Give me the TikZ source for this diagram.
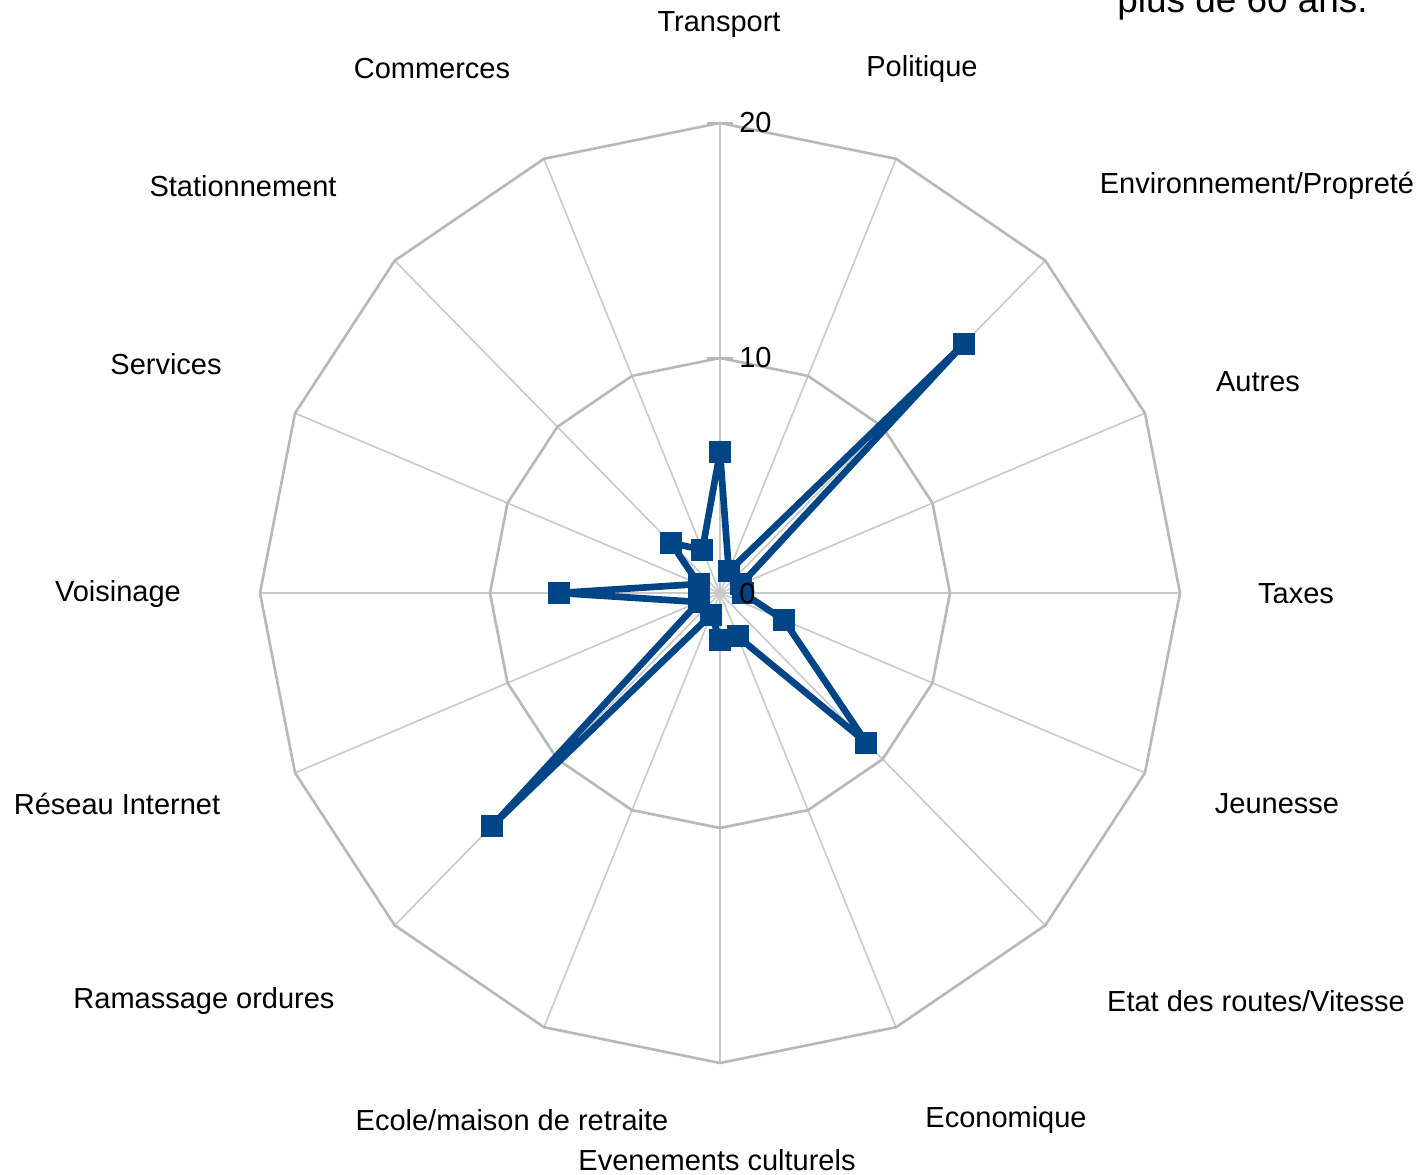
\documentclass[tikz,border=0pt]{standalone}
\usepackage{fontspec}
\setmainfont{Liberation Sans}
\definecolor{ringgray}{HTML}{B8B8B8}
\definecolor{spokegray}{HTML}{C8C8C8}
\definecolor{serieblue}{HTML}{004586}
\begin{document}
\begin{tikzpicture}[x=0.02cm,y=-0.02cm,
  ring/.style={draw=ringgray, line width=1.5pt, line join=round},
  spoke/.style={draw=spokegray, line width=0.9pt},
  dataline/.style={draw=serieblue, line width=3.8pt, line join=round},
  marker/.style={fill=serieblue, draw=none, minimum size=0.44cm, inner sep=0pt, rectangle},
  lab/.style={font=\fontsize{16.5}{19}\selectfont, text=black, inner sep=0pt},
  ticklab/.style={font=\fontsize{16.5}{19}\selectfont, text=black, inner sep=0pt, anchor=west}]
\useasboundingbox (0,0) rectangle (1420,1175);
\coordinate (c) at (720,593);
\foreach \i in {0,...,15} {
  \pgfmathsetmacro\a{\i*22.5}
  \coordinate (r\i) at ({720+460*sin(\a)},{593-470*cos(\a)});
  \coordinate (h\i) at ({720+230*sin(\a)},{593-235*cos(\a)});
}
% spokes
\foreach \i in {0,...,15} \draw[spoke] (c) -- (r\i);
% rings
\draw[ring] (r0) \foreach \i in {1,...,15}{ -- (r\i)} -- cycle;
\draw[ring] (h0) \foreach \i in {1,...,15}{ -- (h\i)} -- cycle;
% tick marks
\draw[ring] ([xshift=-0.26cm]r0) -- ([xshift=0.26cm]r0);
\draw[ring] ([xshift=-0.26cm]h0) -- ([xshift=0.26cm]h0);
% data
\foreach \v [count=\i from 0] in {6,1,15,1,1,3,9,2,2,1,14,1,7,1,3,2} {
  \coordinate (p\i) at ({720+23*\v*sin(\i*22.5)},{593-23.5*\v*cos(\i*22.5)});
}
\draw[dataline] (p0) \foreach \i in {1,...,15}{ -- (p\i)} -- cycle;
\foreach \i in {0,...,15} \node[marker] (m\i) at (p\i) {};
% tick labels
\node[ticklab] (t20) at (739,123) {20};
\node[ticklab] (t10) at (739,358) {10};
\node[ticklab] (t0) at (739,594) {0};
% category labels
\node[lab] (l0) at (719,25) {Transport};
\node[lab] (l1) at (922,69) {Politique};
\node[lab] (l2) at (1257,186) {Environnement/Propreté};
\node[lab] (l3) at (1258,382) {Autres};
\node[lab] (l4) at (1296,594) {Taxes};
\node[lab] (l5) at (1277,804) {Jeunesse};
\node[lab] (l6) at (1256,1001) {Etat des routes/Vitesse};
\node[lab] (l7) at (1006,1120) {Economique};
\node[lab] (l8) at (717,1160) {Evenements culturels};
\node[lab] (l9) at (512,1120) {Ecole/maison de retraite};
\node[lab] (l10) at (204,1001) {Ramassage ordures};
\node[lab] (l11) at (117,804) {Réseau Internet};
\node[lab] (l12) at (118,594) {Voisinage};
\node[lab] (l13) at (166,364) {Services};
\node[lab] (l14) at (243,186) {Stationnement};
\node[lab] (l15) at (432,69) {Commerces};
% cut-off title (cut at the top edge as in the reference)
\node[font=\fontsize{21}{25}\selectfont, inner sep=0pt, anchor=base west] (title) at (1117,13) {plus de 60 ans.};
\end{tikzpicture}
\end{document}
